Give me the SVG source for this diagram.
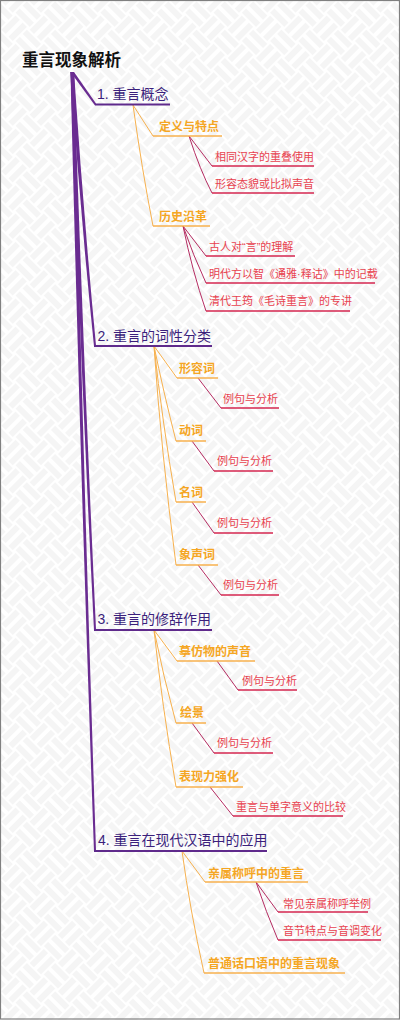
<svg xmlns="http://www.w3.org/2000/svg" width="400" height="1020" viewBox="0 0 400 1020">
<defs>
<pattern id="weave" width="40" height="40" patternUnits="userSpaceOnUse" patternTransform="rotate(45)">
<rect width="40" height="40" fill="#ffffff"/>
<g fill="#f5f5f5">
<rect x="0" y="2" width="20" height="6"/>
<rect x="0" y="12" width="20" height="6"/>
<rect x="22" y="0" width="6" height="20"/>
<rect x="32" y="0" width="6" height="20"/>
<rect x="2" y="20" width="6" height="20"/>
<rect x="12" y="20" width="6" height="20"/>
<rect x="20" y="22" width="20" height="6"/>
<rect x="20" y="32" width="20" height="6"/>
</g>
</pattern>
<style>
text{font-family:"Liberation Sans","Noto Sans CJK SC",sans-serif;}
.root{font-size:16.5px;font-weight:bold;fill:#111;}
.l1{font-size:14px;fill:#3b1f7c;}
.l2{font-size:12px;font-weight:bold;fill:#f5a623;}
.l3{font-size:11px;fill:#e8424f;}
.u1{stroke:#5f2a8c;stroke-width:2;fill:none;}
.u2{stroke:#f7b14e;stroke-width:1.5;fill:none;}
.u3{stroke:#d4264f;stroke-width:1.5;fill:none;}
.c2{stroke:#f7b14e;stroke-width:1;fill:none;}
.c3{stroke:#b52c62;stroke-width:1;fill:none;}
.trunk{fill:#6a2c91;}
</style>
</defs>
<rect x="0" y="0" width="400" height="1020" fill="url(#weave)"/>
<rect x="0.5" y="0.5" width="399" height="1018.5" fill="none" stroke="#808080" stroke-width="1.2"/>

<g id="connectors">
<path class="trunk" d="M70.5,72 L95,105.5 L96,103.5 L74,72 Z"/>
<path class="trunk" d="M70.5,72 Q80,209 94,346.5 L96,345.5 Q83,209 74,72 Z"/>
<path class="trunk" d="M70.5,72 Q80,351 94,630.5 L96,629.5 Q83,351 74,72 Z"/>
<path class="trunk" d="M70.5,72 Q80,461 94,851.5 L96,850.5 Q83,461 74,72 Z"/>

<path class="c2" d="M133,105 L153,136"/>
<path class="c2" d="M133,105 Q142,170 153,226"/>
<path class="c3" d="M189,136 L212,166"/>
<path class="c3" d="M189,136 Q200,170 212,193"/>
<path class="c3" d="M183,226 L206,256"/>
<path class="c3" d="M183,226 Q193,255 206,283"/>
<path class="c3" d="M183,226 Q192,270 206,311"/>

<path class="c2" d="M154,346 L177,378"/>
<path class="c2" d="M154,346 Q163,390 176,441"/>
<path class="c2" d="M154,346 Q162,420 176,502"/>
<path class="c2" d="M154,346 Q161,450 176,565"/>
<path class="c3" d="M198,378 L221,408"/>
<path class="c3" d="M192,441 L214,471"/>
<path class="c3" d="M192,502 L214,533"/>
<path class="c3" d="M198,565 L221,595"/>

<path class="c2" d="M154,630 L177,661"/>
<path class="c2" d="M154,630 Q163,675 176,723"/>
<path class="c2" d="M154,630 Q162,705 176,787"/>
<path class="c3" d="M217,661 L238,690"/>
<path class="c3" d="M192,723 L214,753"/>
<path class="c3" d="M210,787 L233,816"/>

<path class="c2" d="M182,851 L205,882"/>
<path class="c2" d="M182,851 Q190,910 204,973"/>
<path class="c3" d="M256,882 L278,912"/>
<path class="c3" d="M256,882 Q266,912 278,940"/>
</g>

<g id="root"><text class="root" x="22" y="66">重言现象解析</text></g>

<g id="n1"><text class="l1" x="97" y="99">1. 重言概念</text><path class="u1" d="M95,104.5 H170"/></g>
<g id="n1-1"><text class="l2" x="159" y="131">定义与特点</text><path class="u2" d="M153,136 H222"/></g>
<g id="n1-1-1"><text class="l3" x="215" y="160.5">相同汉字的重叠使用</text><path class="u3" d="M212,166 H314"/></g>
<g id="n1-1-2"><text class="l3" x="215" y="187.5">形容态貌或比拟声音</text><path class="u3" d="M212,193 H314"/></g>
<g id="n1-2"><text class="l2" x="159" y="220.5">历史沿革</text><path class="u2" d="M153,226 H210"/></g>
<g id="n1-2-1"><text class="l3" x="209" y="250.5">古人对“言”的理解</text><path class="u3" d="M206,256 H295"/></g>
<g id="n1-2-2"><text class="l3" x="209" y="277.5">明代方以智《通雅·释诂》中的记载</text><path class="u3" d="M206,283 H375"/></g>
<g id="n1-2-3"><text class="l3" x="209" y="305">清代王筠《毛诗重言》的专讲</text><path class="u3" d="M206,311 H350"/></g>

<g id="n2"><text class="l1" x="97.5" y="340.5">2. 重言的词性分类</text><path class="u1" d="M94,346 H212"/></g>
<g id="n2-1"><text class="l2" x="179" y="373">形容词</text><path class="u2" d="M177,378 H218"/></g>
<g id="n2-1-1"><text class="l3" x="223" y="403">例句与分析</text><path class="u3" d="M221,408 H279"/></g>
<g id="n2-2"><text class="l2" x="179" y="435">动词</text><path class="u2" d="M176,441 H206"/></g>
<g id="n2-2-1"><text class="l3" x="217" y="465">例句与分析</text><path class="u3" d="M214,471 H273"/></g>
<g id="n2-3"><text class="l2" x="179" y="497">名词</text><path class="u2" d="M176,502 H206"/></g>
<g id="n2-3-1"><text class="l3" x="217" y="527">例句与分析</text><path class="u3" d="M214,533 H273"/></g>
<g id="n2-4"><text class="l2" x="179" y="559">象声词</text><path class="u2" d="M176,565 H218"/></g>
<g id="n2-4-1"><text class="l3" x="223" y="589">例句与分析</text><path class="u3" d="M221,595 H279"/></g>

<g id="n3"><text class="l1" x="97.5" y="623.5">3. 重言的修辞作用</text><path class="u1" d="M94,630 H212"/></g>
<g id="n3-1"><text class="l2" x="179" y="656">摹仿物的声音</text><path class="u2" d="M177,661 H255"/></g>
<g id="n3-1-1"><text class="l3" x="242" y="685">例句与分析</text><path class="u3" d="M238,690 H297"/></g>
<g id="n3-2"><text class="l2" x="180" y="717">绘景</text><path class="u2" d="M176,723 H206"/></g>
<g id="n3-2-1"><text class="l3" x="217" y="747">例句与分析</text><path class="u3" d="M214,753 H273"/></g>
<g id="n3-3"><text class="l2" x="179" y="781">表现力强化</text><path class="u2" d="M176,787 H243"/></g>
<g id="n3-3-1"><text class="l3" x="236" y="811">重言与单字意义的比较</text><path class="u3" d="M233,816 H343"/></g>

<g id="n4"><text class="l1" x="98" y="845">4. 重言在现代汉语中的应用</text><path class="u1" d="M94,851 H267"/></g>
<g id="n4-1"><text class="l2" x="208" y="877.5">亲属称呼中的重言</text><path class="u2" d="M205,882 H308"/></g>
<g id="n4-1-1"><text class="l3" x="283" y="907.5">常见亲属称呼举例</text><path class="u3" d="M278,912 H368"/></g>
<g id="n4-1-2"><text class="l3" x="283" y="934.5">音节特点与音调变化</text><path class="u3" d="M278,940 H381"/></g>
<g id="n4-2"><text class="l2" x="208" y="968">普通话口语中的重言现象</text><path class="u2" d="M204,973 H345"/></g>
</svg>
